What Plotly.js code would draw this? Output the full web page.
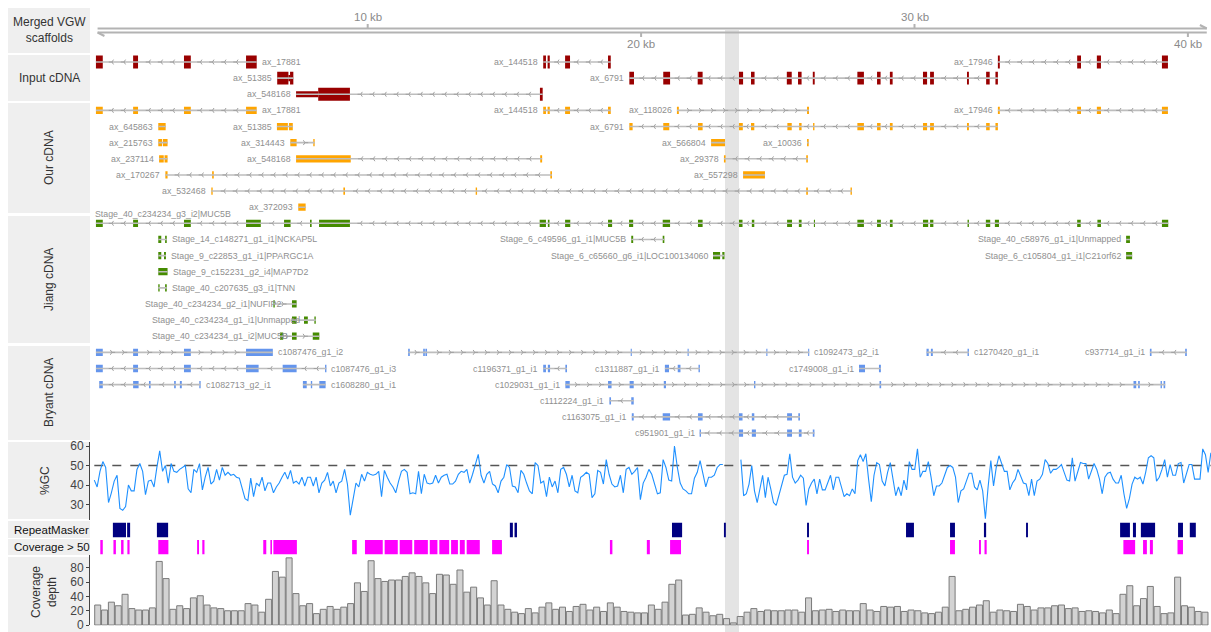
<!DOCTYPE html>
<html><head><meta charset="utf-8">
<script src="https://cdn.plot.ly/plotly-3.0.1.min.js"></script>
<style>html,body{margin:0;padding:0;background:#fff}#chart{width:1211px;height:632px}</style>
</head><body><div id="chart"></div>
<script>
// ================= DATA (genomic positions in kb) =================
const scaffold = [0.12, 40.69];
const scaleTicks = [10, 20, 30, 40];
const scaleTickLabels = ['10 kb', '20 kb', '30 kb', '40 kb'];
const highlight = [23.07, 23.58];

// transcripts: row, name, strand (1 plus, -1 minus, 0 none), label side, exons [start,end,(u = UTR)]
const inputCDNA = [
 {row:0, name:'ax_17881', strand:-1, side:'R', exons:[[0.06,0.31],[1.42,1.60],[3.28,3.53],[5.55,5.94]]},
 {row:0, name:'ax_144518', strand:-1, side:'L', exons:[[16.42,16.52],[16.58,16.66],[17.22,17.40],[18.79,18.89]]},
 {row:0, name:'ax_17946', strand:-1, side:'L', exons:[[33.05,33.12],[35.95,36.09],[36.67,36.82],[39.05,39.27]]},
 {row:1, name:'ax_51385', strand:0, side:'L', exons:[[6.69,7.10],[7.10,7.16,'u'],[7.16,7.28]]},
 {row:1, name:'ax_6791', strand:-1, side:'L', exons:[[19.57,19.74],[20.81,21.06],[22.07,22.25],[23.58,23.73],[24.02,24.15],[25.33,25.51],[25.74,25.87],[26.28,26.35],[27.91,28.15],[28.63,28.76],[29.10,29.20],[30.31,30.46],[30.57,30.71],[31.92,31.99],[32.62,32.75],[32.96,33.05]]},
 {row:2, name:'ax_548168', strand:-1, side:'L', exons:[[7.38,8.19,'u'],[8.19,9.35],[16.30,16.40]]}
];
const ourCDNA = [
 {row:3, name:'ax_17881', strand:-1, side:'R', exons:[[0.06,0.31],[1.42,1.60],[3.28,3.53],[5.55,5.94]]},
 {row:3, name:'ax_144518', strand:-1, side:'L', exons:[[16.42,16.52],[16.58,16.66],[17.22,17.40],[18.79,18.89]]},
 {row:3, name:'ax_118026', strand:1, side:'L', exons:[[21.31,21.38],[26.07,26.14]]},
 {row:3, name:'ax_17946', strand:-1, side:'L', exons:[[33.05,33.12],[35.95,36.09],[36.67,36.82],[39.05,39.27]]},
 {row:4, name:'ax_645863', strand:0, side:'L', exons:[[2.34,2.61]]},
 {row:4, name:'ax_51385', strand:0, side:'L', exons:[[6.68,7.08],[7.12,7.26]]},
 {row:4, name:'ax_6791', strand:-1, side:'L', exons:[[19.57,19.69],[20.81,21.03],[22.08,22.25],[23.58,23.72],[24.02,24.14],[25.35,25.51],[25.78,25.87],[26.29,26.34],[27.91,28.15],[28.63,28.76],[29.10,29.20],[30.31,30.46],[30.57,30.71],[31.92,31.99],[32.62,32.75],[32.96,33.05]]},
 {row:5, name:'ax_215763', strand:0, side:'L', exons:[[2.34,2.48],[2.51,2.68]]},
 {row:5, name:'ax_314443', strand:1, side:'L', exons:[[7.17,7.40],[8.01,8.06]]},
 {row:5, name:'ax_566804', strand:0, side:'L', exons:[[22.56,23.07]]},
 {row:5, name:'ax_10036', strand:0, side:'L', exons:[[26.07,26.13]]},
 {row:6, name:'ax_237114', strand:0, side:'L', exons:[[2.37,2.54],[2.57,2.68]]},
 {row:6, name:'ax_548168', strand:-1, side:'L', exons:[[7.38,9.38],[16.31,16.38]]},
 {row:6, name:'ax_29378', strand:-1, side:'L', exons:[[23.03,23.09],[26.04,26.10]]},
 {row:7, name:'ax_170267', strand:-1, side:'L', exons:[[2.60,2.68],[4.31,4.37],[16.68,16.74]]},
 {row:7, name:'ax_557298', strand:0, side:'L', exons:[[23.73,24.53]]},
 {row:8, name:'ax_532468', strand:-1, side:'L', exons:[[4.28,4.33],[9.11,9.17],[13.95,14.00],[26.04,26.10],[27.66,27.71]]},
 {row:9, name:'ax_372093', strand:0, side:'L', exons:[[7.46,7.73]]}
];
const jiangCDNA = [
 {row:10, name:'Stage_40_c234234_g3_i2|MUC5B', strand:-1, side:'T', exons:[[0.06,0.31],[1.42,1.60],[3.28,3.53],[5.55,6.09],[6.94,7.18],[7.89,7.95],[8.22,9.35],[16.29,16.52],[16.59,16.65],[17.22,17.41],[18.79,18.94],[19.56,19.71],[20.79,21.06],[22.08,22.25],[23.58,23.71],[24.05,24.14],[25.34,25.52],[25.77,25.87],[26.32,26.36],[27.91,28.15],[28.63,28.77],[29.10,29.20],[30.31,30.50],[30.57,30.69],[31.94,31.99],[32.61,32.77],[32.94,33.09],[35.95,36.08],[36.69,36.82],[39.05,39.28]]},
 {row:11, name:'Stage_14_c148271_g1_i1|NCKAP5L', strand:0, side:'R', exons:[[2.34,2.45],[2.59,2.65]]},
 {row:11, name:'Stage_6_c49596_g1_i1|MUC5B', strand:-1, side:'L', exons:[[19.64,19.71],[20.79,20.85]]},
 {row:11, name:'Stage_40_c58976_g1_i1|Unmapped', strand:0, side:'L', exons:[[37.74,37.88]]},
 {row:12, name:'Stage_9_c22853_g1_i1|PPARGC1A', strand:0, side:'R', exons:[[2.34,2.45],[2.55,2.62]]},
 {row:12, name:'Stage_6_c65660_g6_i1|LOC100134060', strand:0, side:'L', exons:[[22.63,22.89],[22.97,23.05]]},
 {row:12, name:'Stage_6_c105804_g1_i1|C21orf62', strand:0, side:'L', exons:[[37.74,37.96]]},
 {row:13, name:'Stage_9_c152231_g2_i4|MAP7D2', strand:0, side:'R', exons:[[2.34,2.68]]},
 {row:14, name:'Stage_40_c207635_g3_i1|TNN', strand:0, side:'R', exons:[[2.34,2.39],[2.59,2.65]]},
 {row:15, name:'Stage_40_c234234_g2_i1|NUFIP2', strand:1, side:'X', lx:1.78, exons:[[6.55,6.60],[7.23,7.40]]},
 {row:16, name:'Stage_40_c234234_g1_i1|Unmapped', strand:0, side:'X', lx:2.04, exons:[[7.23,7.40],[7.67,7.81],[8.05,8.10]]},
 {row:17, name:'Stage_40_c234234_g1_i2|MUC5B', strand:1, side:'X', lx:2.04, exons:[[6.79,6.91],[7.23,7.40],[7.99,8.23]]}
];
const bryantCDNA = [
 {row:18, name:'c1087476_g1_i2', strand:1, side:'R', exons:[[0.06,0.31],[1.42,1.60],[3.28,3.53],[5.55,6.53]]},
 {row:18, name:'c1092473_g2_i1', strand:1, side:'R', exons:[[11.48,11.54],[12.03,12.09],[12.11,12.17],[19.62,19.66],[21.70,21.74],[24.58,24.62],[26.11,26.15]]},
 {row:18, name:'c1270420_g1_i1', strand:-1, side:'R', exons:[[30.44,30.52],[30.60,30.67],[31.94,31.99]]},
 {row:18, name:'c937714_g1_i1', strand:-1, side:'L', exons:[[38.61,38.67],[39.90,39.96]]},
 {row:19, name:'c1087476_g1_i3', strand:-1, side:'R', exons:[[0.06,0.31],[1.42,1.60],[3.28,3.53],[5.55,6.01],[6.89,7.40],[8.44,8.49]]},
 {row:19, name:'c1196371_g1_i1', strand:-1, side:'L', exons:[[16.42,16.52],[16.59,16.67],[17.23,17.29]]},
 {row:19, name:'c1311887_g1_i1', strand:-1, side:'L', exons:[[20.87,21.02],[21.34,21.44],[22.10,22.15]]},
 {row:19, name:'c1749008_g1_i1', strand:0, side:'L', exons:[[27.97,28.19],[28.70,28.77]]},
 {row:20, name:'c1082713_g2_i1', strand:-1, side:'R', exons:[[0.18,0.31],[1.42,1.62],[2.00,2.06],[2.92,2.98],[3.13,3.20],[3.84,3.89]]},
 {row:20, name:'c1608280_g1_i1', strand:0, side:'R', exons:[[7.63,7.77],[7.92,7.97],[8.23,8.46]]},
 {row:20, name:'c1029031_g1_i1', strand:1, side:'L', exons:[[17.23,17.39],[18.79,18.92],[19.58,19.73],[20.83,20.91],[24.13,24.18],[28.72,28.78],[38.01,38.11],[38.18,38.24],[39.00,39.05],[39.11,39.17]]},
 {row:21, name:'c1112224_g1_i1', strand:-1, side:'L', exons:[[18.84,18.90],[19.64,19.73]]},
 {row:22, name:'c1163075_g1_i1', strand:-1, side:'L', exons:[[19.66,19.73],[20.79,21.06],[22.08,22.25],[23.58,23.71],[24.05,24.14],[25.34,25.52],[25.75,25.81]]},
 {row:23, name:'c951901_g1_i1', strand:-1, side:'L', exons:[[22.14,22.19],[23.58,23.73],[24.05,24.20],[25.34,25.52],[25.77,25.87],[26.28,26.34]]}
];

// %GC in sliding windows (two runs, separated by an N gap)
const gcRun1Span = [0, 22.99];
const gcRun1 = [42.5,39,47,52,49,31,36,42,45,28,27,29,40,37,37,48,51,47,35,42,42.5,39,49,57.5,47,50,41,51,47,46.5,
 48,49,50,38,36,48,46.5,51,37.5,44,49,40.5,42,48,42.5,49,45,46.5,45,45.5,44,43.5,38,33,32,43.5,34,41,39.5,44,
 37,41,41,36,39,41,44,46.5,43,47.5,41,42,40.5,44,39.5,44,44,39.5,44,36,41,42.5,46.5,39.5,42,36,41,42,48,40.5,
 24.5,34,41,39,45.5,42,46.5,45.5,45,45.5,47,34,47.5,44,41,39,36,42,47,48,46.5,35.5,36,35.5,47,35.5,45.5,41,40.5,41,
 45,41,44,45,45.5,40.5,40.5,42,45.5,47,46.5,48,41,45.5,50.5,55.7,45,41,45.5,47,40.5,39.5,36,42,44,50.5,49,39.5,39,36,
 47.5,45.5,41,37,35.5,51.5,50,41,42,34,44,39,42,36,48,49,45.5,39,45,37,36,44,45,46.5,45.5,33.5,
 35.5,47.5,46.5,40.5,53,45.5,40.5,39,39.5,45,36,48,49,45.5,47,49,32.5,41,44,48,45.5,40.5,35.5,36,53,49,42.5,42,60,49,
 41,38,37,35.5,35.5,43.5,46.5,52.5,45.5,39,44,44,45,49,50.5,50.5];
const gcRun2Span = [23.65, 40.84];
const gcRun2 = [53,34.5,35.5,40.5,50,37,31,38,45,33.5,44,38,31,29.5,34.5,40.5,45,45.5,56,44,41,42.5,45,43.5,29.5,38,41,43,35.5,43,
 37.5,37.5,41,45,37.5,44,44,39,34,35.5,34.5,38,35.5,52.5,55.5,52,56,43,31.5,45,51.5,50.5,42,39.5,46.5,51.5,42,34.5,39,34.5,
 42.5,37.5,52,48,48,58.5,44,47,47,52,44,34.5,39.5,39.5,41,45.5,49,50,49,44,31,37,38,42,46,46,39,37.5,42.5,37,
 22.7,39,52.5,39.5,49,55,51.5,47,47,37.5,41,43,48,44,41,40.5,34.5,43,34.5,42,43,45.5,53,51,46,48,48,49,50.5,46.5,
 42.5,42,54,42,46.5,51.5,51,51,43,46.5,51,48,43,35.5,44,46,46.5,43,41,41,45,35.5,28,33,40.5,44,43,44,40.5,46.5,
 54,55,54,42,44,48,53,44,50.5,45,45,51,51.5,41,45.5,50.5,50.5,43,43,43,58.5,55.5,46.5,56.5];
const gcReference = 50;

const repeatMasker = [[0.68,1.16],[1.20,1.31],[2.29,2.70],[15.20,15.31],[15.37,15.46],[21.13,21.50],[23.03,23.10],[26.07,26.14],
 [29.69,29.98],[31.30,31.48],[32.54,32.62],[34.08,34.15],[37.52,37.88],[37.99,38.10],[38.28,38.80],[39.64,39.82],[40.07,40.29]];
const coverageOver50 = [[0.22,0.31],[0.70,0.79],[0.98,1.07],[1.21,1.29],[2.34,2.71],[3.76,3.83],[3.95,4.03],[6.18,6.29],[6.44,6.50],[6.55,7.41],
 [9.43,9.60],[9.90,10.55],[10.62,11.10],[11.17,11.63],[11.70,12.20],[12.27,12.55],[12.62,12.98],[13.05,13.30],[13.37,13.55],[13.62,14.10],
 [14.55,14.91],[18.86,18.95],[20.21,20.32],[21.06,21.46],[26.07,26.14],[31.30,31.48],[32.36,32.43],[32.56,32.64],[37.64,38.07],[38.36,38.50],
 [38.61,38.72],[39.62,39.82]];

const coverageBin = 0.25;
const coverageDepth = [28,21,32,27,43,23,21,21,24,89,65,22,27,23,38,41,28,24,23,20,20,20,30,28,18,36,75,67,94,44,
 27,30,16,22,26,22,25,30,59,47,90,65,61,63,63,68,73,68,59,44,71,70,57,77,46,53,38,28,62,28,
 22,18,16,23,17,25,31,22,25,19,26,29,21,25,19,31,25,19,18,17,17,28,22,32,57,63,14,15,24,18,
 13,15,9,3,12,18,23,19,21,20,20,21,21,18,38,20,21,22,19,21,20,20,30,21,19,26,25,26,19,21,
 20,17,16,18,25,68,20,22,25,28,34,18,21,20,19,29,26,21,24,24,27,28,23,24,19,20,19,17,21,16,
 43,55,27,37,54,26,16,17,67,27,25,19,18];
const coverageTicks = [0, 20, 40, 60, 80];

// ================= RENDERING =================
const W = 1211, H = 632;
const KB_PER_PX = 1/27.34, X0PX = 94.3;
const FONT = 'Liberation Sans, Arial, sans-serif';
const py = px => 1 - px/H;           // paper y from pixel
const rowOf = px => (px - 62)/16.13; // gene-lane units from pixel (layout helper)

const tracks = [
 {data: inputCDNA, color:'#990000', h:0.80, hu:0.38},
 {data: ourCDNA, color:'#FFA500', h:0.45, hu:0.25},
 {data: jiangCDNA, color:'#458B00', h:0.45, hu:0.25},
 {data: bryantCDNA, color:'#6495ED', h:0.45, hu:0.25}
];

const traces = [];
const annotations = [];
const lineX = [], lineY = [];
const aL = {x:[], y:[]}, aR = {x:[], y:[]};
const labelFont = {family: FONT, size: 8.8, color: '#8f8f8f'};

tracks.forEach(t => {
  t.data.forEach(tr => {
    const ex = tr.exons, s = ex[0][0], e = ex[ex.length-1][1];
    lineX.push(s, e, null); lineY.push(tr.row, tr.row, null);
    if (tr.strand) {
      const tgt = tr.strand < 0 ? aL : aR;
      for (let i = 0; i < ex.length - 1; i++) {
        const a = ex[i][1], b = ex[i+1][0], gap = b - a;
        if (gap < 0.3) continue;
        const sp = 0.44, n = Math.max(1, Math.floor(gap / sp));
        const off = (gap - (n - 1) * sp) / 2;
        for (let k = 0; k < n; k++) { tgt.x.push(a + off + k * sp); tgt.y.push(tr.row); }
      }
    }
    let ann = {xref:'x', yref:'y', y: tr.row, text: tr.name, showarrow:false, font: labelFont, yanchor:'middle'};
    if (tr.side === 'L') Object.assign(ann, {x: s, xanchor:'right', xshift:-3});
    else if (tr.side === 'R') Object.assign(ann, {x: e, xanchor:'left', xshift:3});
    else if (tr.side === 'T') Object.assign(ann, {x: s, xanchor:'left', xshift:-3, yshift:9});
    else Object.assign(ann, {x: tr.lx, xanchor:'left'});
    annotations.push(ann);
  });
});

traces.push({type:'scatter', mode:'lines', x:lineX, y:lineY, line:{color:'#bdbdbd', width:1.6}, hoverinfo:'skip', xaxis:'x', yaxis:'y'});
traces.push({type:'scatter', mode:'markers', x:aL.x, y:aL.y, marker:{symbol:'y-left', size:4, line:{color:'#a0a0a0', width:1}}, hoverinfo:'skip', xaxis:'x', yaxis:'y'});
traces.push({type:'scatter', mode:'markers', x:aR.x, y:aR.y, marker:{symbol:'y-right', size:4, line:{color:'#a0a0a0', width:1}}, hoverinfo:'skip', xaxis:'x', yaxis:'y'});

tracks.forEach(t => {
  const bx = [], bb = [], by = [], bw = [];
  t.data.forEach(tr => tr.exons.forEach(x => {
    bx.push(x[1] - x[0]); bb.push(x[0]); by.push(tr.row); bw.push(x[2] === 'u' ? t.hu : t.h);
  }));
  traces.push({type:'bar', orientation:'h', x:bx, base:bb, y:by, width:bw, marker:{color:t.color, line:{width:0}}, hoverinfo:'skip', xaxis:'x', yaxis:'y'});
});

// scale bar (merged scaffold)
const yTop = rowOf(28.5), yBot = rowOf(32.5);
traces.push({type:'scatter', mode:'lines', xaxis:'x', yaxis:'y', hoverinfo:'skip',
  x:[scaffold[0], scaffold[1], null, scaffold[1]-0.25, scaffold[1], null, scaffold[0], scaffold[1], null, scaffold[0]+0.25, scaffold[0]],
  y:[yTop, yTop, null, rowOf(25), yTop, null, yBot, yBot, null, rowOf(36), yBot],
  line:{color:'#b3b3b3', width:2}});
const tkx = [], tky = [];
scaleTicks.forEach((v, i) => {
  const up = i % 2 === 0;
  tkx.push(v, v, null);
  tky.push(up ? yTop : yBot, up ? rowOf(24) : rowOf(37), null);
  annotations.push({xref:'x', yref:'y', x:v, y: up ? rowOf(17) : rowOf(44), text: scaleTickLabels[i], showarrow:false,
    font:{family:FONT, size:11.5, color:'#8a8a8a'}, xanchor:'center', yanchor:'middle'});
});
traces.push({type:'scatter', mode:'lines', x:tkx, y:tky, line:{color:'#b3b3b3', width:2}, hoverinfo:'skip', xaxis:'x', yaxis:'y'});

// GC
function runX(span, n) { const st = (span[1]-span[0])/(n-1); return Array.from({length:n}, (_, i) => span[0] + i*st); }
const gcX = runX(gcRun1Span, gcRun1.length).concat([null]).concat(runX(gcRun2Span, gcRun2.length));
const gcY = gcRun1.concat([null]).concat(gcRun2);
traces.push({type:'scatter', mode:'lines', x:[0, 40.84], y:[gcReference, gcReference], line:{color:'#555', width:1.6, dash:'dash'}, hoverinfo:'skip', xaxis:'x', yaxis:'y2'});
traces.push({type:'scatter', mode:'lines', x:gcX, y:gcY, line:{color:'#1E90FF', width:1.1}, connectgaps:false, hoverinfo:'skip', xaxis:'x', yaxis:'y2'});

// repeat masker / coverage > 50
function hbar(iv, yaxis, color) {
  return {type:'bar', orientation:'h', y: iv.map(() => 0.5), x: iv.map(d => d[1]-d[0]), base: iv.map(d => d[0]), width:1,
    marker:{color, line:{width:0}}, hoverinfo:'skip', xaxis:'x', yaxis};
}
traces.push(hbar(repeatMasker, 'y3', '#000080'));
traces.push(hbar(coverageOver50, 'y4', '#FF00FF'));

// coverage depth
traces.push({type:'bar', x: coverageDepth.map((_, i) => (i + 0.5) * coverageBin), y: coverageDepth, width: coverageBin*0.88,
  marker:{color:'#d3d3d3', line:{color:'#7a7a7a', width:1}}, hoverinfo:'skip', xaxis:'x', yaxis:'y5'});

// panel label boxes & texts
const boxes = [[8,53],[55,101],[103,213],[216,343],[346,440],[442,519],[521,538],[539,555],[557,632]];
const shapes = boxes.map(b => ({type:'rect', xref:'paper', yref:'paper', x0:8/W, x1:90/W, y0:py(b[1]), y1:py(b[0]), fillcolor:'#efefef', line:{width:0}, layer:'below'}));
shapes.push({type:'rect', xref:'x', yref:'paper', x0:highlight[0], x1:highlight[1], y0:0, y1:py(30), fillcolor:'#e4e4e4', line:{width:0}, layer:'below'});

const pf = {family:FONT, size:12, color:'#333'};
const panelLabels = [
  {t:'Merged VGW<br>scaffolds', x:49, y:30, a:0},
  {t:'Input cDNA', x:49, y:78, a:0},
  {t:'Our cDNA', x:49, y:158, a:-90},
  {t:'Jiang cDNA', x:49, y:280, a:-90},
  {t:'Bryant cDNA', x:49, y:393, a:-90},
  {t:'%GC', x:45, y:481, a:-90},
  {t:'Coverage<br>depth', x:44, y:592, a:-90}
];
panelLabels.forEach(p => annotations.push({xref:'paper', yref:'paper', x:p.x/W, y:py(p.y), text:p.t, textangle:p.a, showarrow:false,
  font:pf, xanchor:'center', yanchor:'middle'}));
annotations.push({xref:'paper', yref:'paper', x:12/W, y:py(530), text:'RepeatMasker', showarrow:false, font:{family:FONT, size:11.5, color:'#111'}, xanchor:'left', yanchor:'middle'});
annotations.push({xref:'paper', yref:'paper', x:12/W, y:py(547), text:'Coverage &gt; 50', showarrow:false, font:{family:FONT, size:11.5, color:'#111'}, xanchor:'left', yanchor:'middle'});

const axX0 = -X0PX*KB_PER_PX, axX1 = (W - X0PX)*KB_PER_PX;
const yAxisStyle = {anchor:'free', position:89/W, showline:true, linecolor:'#444', linewidth:1, ticks:'outside', ticklen:3, tickcolor:'#444',
  showgrid:false, zeroline:false, tickfont:{family:FONT, size:12, color:'#444'}, fixedrange:true, ticklabeloverflow:'allow'};

const layout = {
  width:W, height:H, margin:{l:0, r:0, t:0, b:0}, paper_bgcolor:'#fff', plot_bgcolor:'rgba(0,0,0,0)',
  showlegend:false, barmode:'overlay', hovermode:false,
  xaxis:{domain:[0,1], range:[axX0, axX1], visible:false, fixedrange:true},
  yaxis:{domain:[py(442.7), py(5.55)], range:[23.6, -3.5], visible:false, fixedrange:true},
  yaxis2:Object.assign({}, yAxisStyle, {domain:[py(520.1), py(442.1)], range:[22, 62], tickvals:[30,40,50,60]}),
  yaxis3:{domain:[py(537.5), py(522.5)], range:[0,1], visible:false, fixedrange:true},
  yaxis4:{domain:[py(554.5), py(540)], range:[0,1], visible:false, fixedrange:true},
  yaxis5:Object.assign({}, yAxisStyle, {domain:[py(625.4), py(555)], range:[-0.5, 98], tickvals:coverageTicks}),
  shapes, annotations
};

Plotly.newPlot('chart', traces, layout, {displayModeBar:false, staticPlot:true});
</script>
</body></html>
